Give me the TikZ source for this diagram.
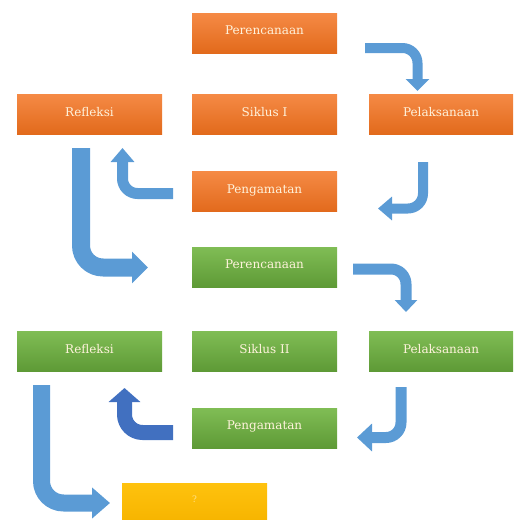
\documentclass[tikz,border=0pt]{standalone}
\usepackage{fontspec}
\setmainfont{DejaVu Serif}
\usetikzlibrary{arrows.meta}
\definecolor{orA}{HTML}{F58A45}
\definecolor{orB}{HTML}{E26A1C}
\definecolor{grA}{HTML}{80BD55}
\definecolor{grB}{HTML}{5E9A36}
\definecolor{yeA}{HTML}{FFC20E}
\definecolor{yeB}{HTML}{F7B500}
\definecolor{arrowblue}{HTML}{5B9BD5}
\definecolor{darkblue}{HTML}{4170C0}
\definecolor{txt}{HTML}{FFF3DC}
\definecolor{qtxt}{HTML}{FFE28A}
\tikzset{
  box/.style={minimum width=145pt, minimum height=40pt, inner sep=0pt, text=txt,
    font=\fontsize{12}{14}\selectfont},
  orbox/.style={box, top color=orA, bottom color=orB},
  grbox/.style={box, top color=grA, bottom color=grB},
  yebox/.style={box, top color=yeA, bottom color=yeB, text=qtxt},
  flow/.style={draw=arrowblue, rounded corners=15pt, line join=round},
}
\newcommand{\lbl}[1]{\raisebox{5pt}{#1}}
\begin{document}
\begin{tikzpicture}[x=1pt,y=-1pt]
\useasboundingbox (0,0) rectangle (514,520);
% Siklus I
\node[orbox] (o1) at (264.5,33) {\lbl{Perencanaan}};
\node[orbox] (o2) at (89.5,114) {\lbl{Refleksi}};
\node[orbox] (o3) at (264.5,114) {\lbl{Siklus I}};
\node[orbox, minimum width=144pt] (o4) at (441,114) {\lbl{Pelaksanaan}};
\node[orbox] (o5) at (264.5,191.5) {\lbl{Pengamatan}};
% Siklus II
\node[grbox] (g1) at (264.5,267) {\lbl{Perencanaan}};
\node[grbox] (g2) at (89.5,351) {\lbl{Refleksi}};
\node[grbox] (g3) at (264.5,351) {\lbl{Siklus II}};
\node[grbox, minimum width=144pt] (g4) at (441,351) {\lbl{Pelaksanaan}};
\node[grbox] (g5) at (264.5,428) {\lbl{Pengamatan}};
% result
\node[yebox, minimum height=37pt, font=\fontsize{9}{11}\selectfont] (y1) at (194.5,501.5) {\lbl{?}};
% connector end points
\coordinate (a1s) at (365,48);   \coordinate (a1e) at (417.5,91);
\coordinate (a2s) at (423,162);  \coordinate (a2e) at (378,208.5);
\coordinate (a3s) at (173,193.5);\coordinate (a3e) at (122.5,148);
\coordinate (a4s) at (81,148);   \coordinate (a4e) at (148,267.5);
\coordinate (a5s) at (353,269);  \coordinate (a5e) at (406,312);
\coordinate (a6s) at (401,387);  \coordinate (a6e) at (357,437.5);
\coordinate (a7s) at (173,432.5);\coordinate (a7e) at (124.5,388);
\coordinate (a8s) at (41.5,385); \coordinate (a8e) at (110,503);
% connectors
\draw[flow, line width=10pt, -{Triangle[length=12pt,width=23pt]}] (a1s) -| (a1e);
\draw[flow, line width=10pt, -{Triangle[length=14pt,width=23pt]}] (a2s) |- (a2e);
\draw[flow, line width=11pt, -{Triangle[length=14pt,width=23pt]}] (a3s) -| (a3e);
\draw[flow, line width=18pt, rounded corners=22pt, -{Triangle[length=16pt,width=31pt]}] (a4s) |- (a4e);
\draw[flow, line width=11pt, -{Triangle[length=12pt,width=22pt]}] (a5s) -| (a5e);
\draw[flow, line width=11pt, -{Triangle[length=15pt,width=27pt]}] (a6s) |- (a6e);
\draw[flow, draw=darkblue, line width=15pt, rounded corners=18pt, -{Triangle[length=14pt,width=31pt]}] (a7s) -| (a7e);
\draw[flow, line width=17pt, rounded corners=22pt, -{Triangle[length=18pt,width=30pt]}] (a8s) |- (a8e);
\end{tikzpicture}
\end{document}
